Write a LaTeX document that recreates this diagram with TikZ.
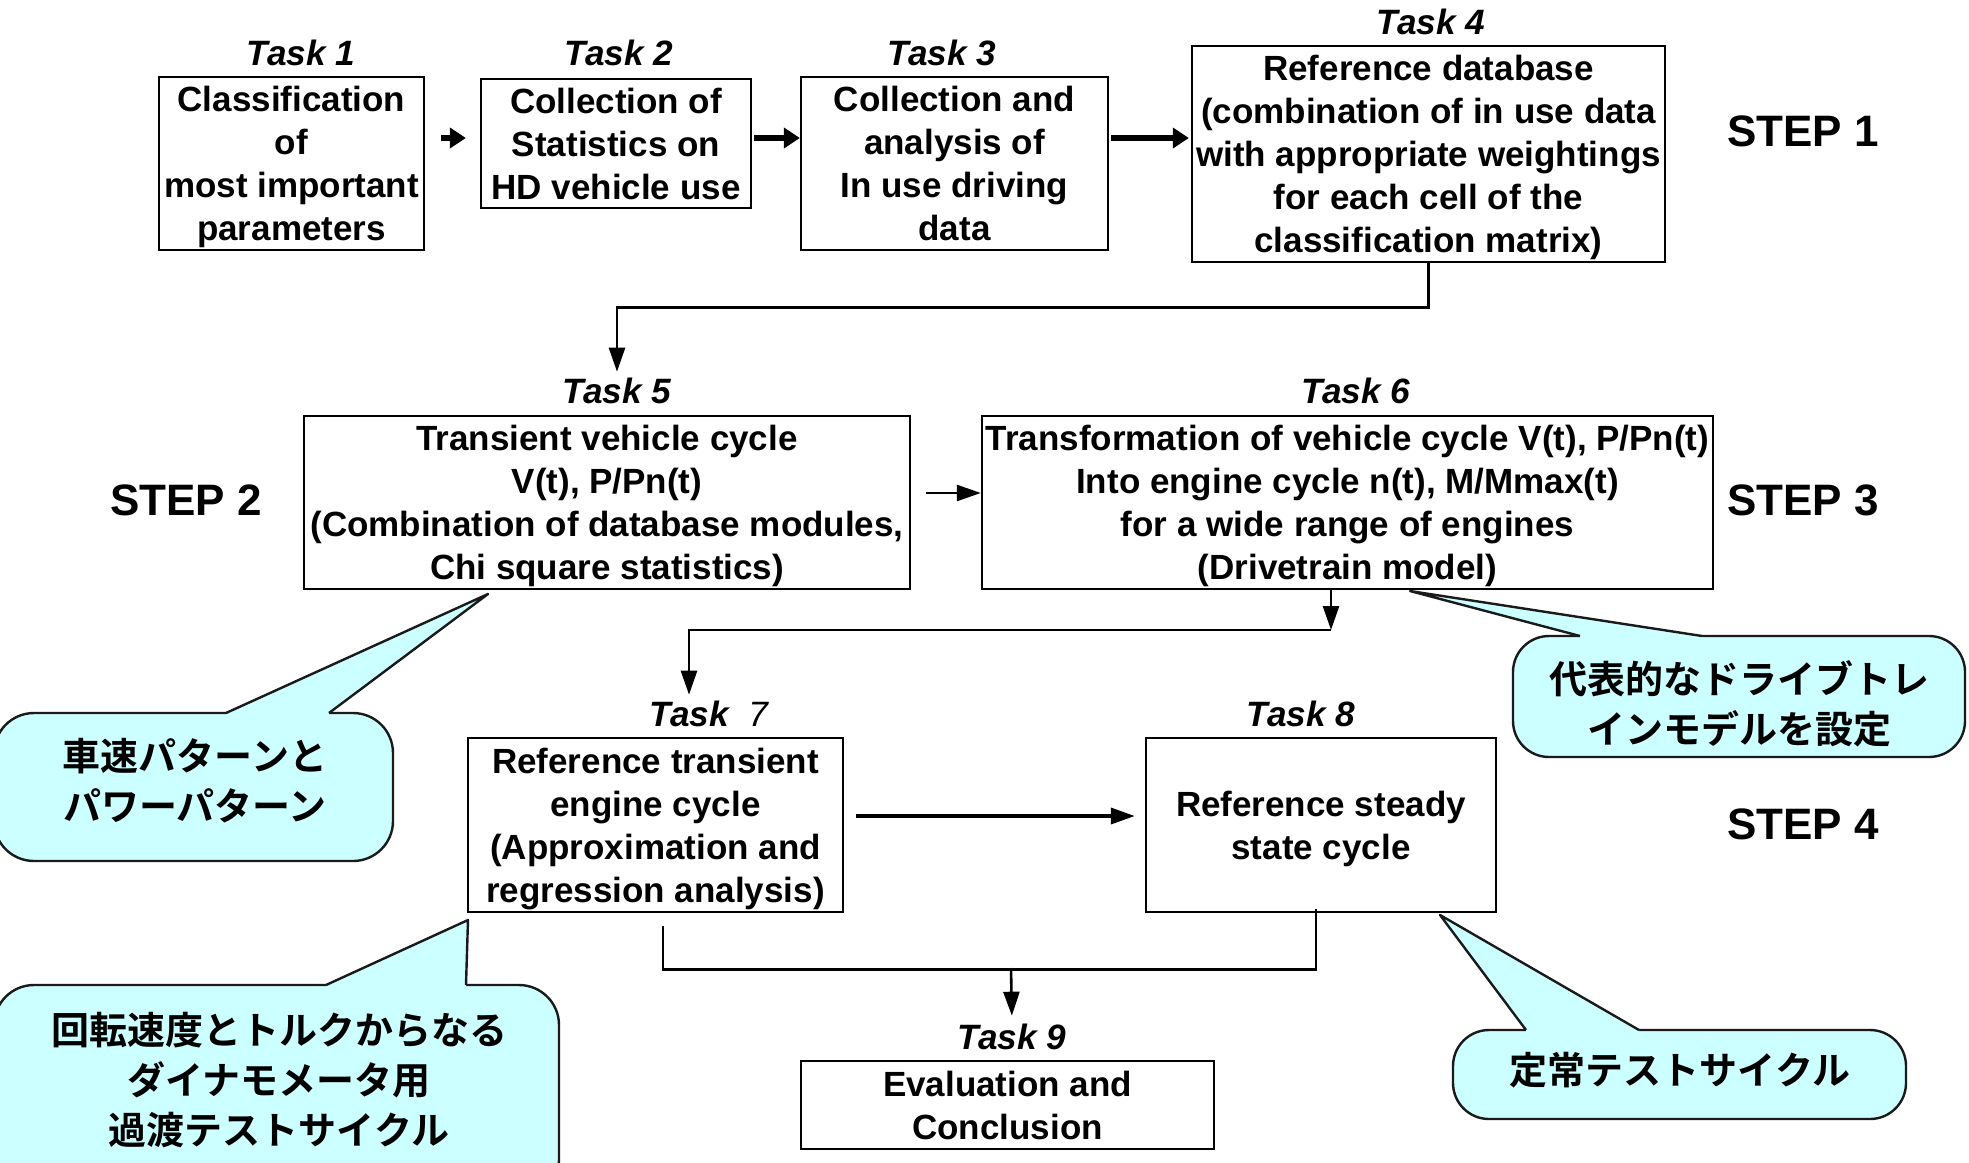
\documentclass[tikz,border=0pt]{standalone}
\usepackage{fontspec}
\setmainfont{Liberation Sans}
\newfontfamily\jpfont{Noto Sans CJK JP Bold}
\usetikzlibrary{arrows.meta,calc}
\definecolor{calloutfill}{HTML}{CCFFFF}
\definecolor{calloutedge}{HTML}{1A1A1A}
\newcommand\tsA{\rule{0pt}{16.6pt}}
\newcommand\tsB{\rule[-4pt]{0pt}{4pt}}
\begin{document}
\begin{tikzpicture}[x=0.5pt,y=-0.5pt,
  taskbox/.style={draw, line width=1.2pt, inner sep=0pt, align=center,
    font=\bfseries\fontsize{17.5}{21.5}\selectfont},
  tasklabel/.style={inner sep=0pt, font=\bfseries\itshape\fontsize{17.6}{20}\selectfont},
  steplabel/.style={inner sep=0pt, font=\bfseries\fontsize{22}{26}\selectfont},
  conn/.style={line width=1.3pt, -{Triangle[length=12pt,width=8pt]}},
  thickconn/.style={line width=2.6pt, -{Triangle[length=8pt,width=10pt]}},
  plainline/.style={line width=1.3pt},
  bubble/.style={draw=calloutedge, line width=1.2pt, fill=calloutfill},
  bubbleline/.style={draw=calloutedge, line width=1.2pt, line join=round},
  bubbletext/.style={inner sep=0pt, align=center, font=\jpfont\fontsize{19}{25}\selectfont}]
\useasboundingbox (0,0) rectangle (1969,1162);

% ---- Step 1 ----
\node[taskbox, minimum width=132.5pt, minimum height=86.5pt] (t1) at (291.5,163.5)
  {\tsA Classification\\of\\most important\\parameters\tsB};
\node[taskbox, minimum width=135pt, minimum height=64.5pt] (t2) at (616,143.5)
  {\tsA Collection of\\Statistics on\\HD vehicle use\tsB};
\node[taskbox, minimum width=153.5pt, minimum height=86.5pt] (t3) at (954.5,163.5)
  {\tsA Collection and\\analysis of\\In use driving\\data\tsB};
\node[taskbox, minimum width=236.5pt, minimum height=108pt] (t4) at (1428.5,154)
  {\tsA Reference database\\(combination of in use data\\with appropriate weightings\\for each cell of the\\classification matrix)\tsB};
\node[tasklabel] (l1) at (301,53) {Task 1};
\node[tasklabel] (l2) at (619,53) {Task 2};
\node[tasklabel] (l3) at (942,53) {Task 3};
\node[tasklabel] (l4) at (1431,22) {Task 4};
\node[steplabel] (s1) at (1803,131) {STEP 1};

% ---- Step 2/3 ----
\node[taskbox, minimum width=303pt, minimum height=86.5pt] (t5) at (607,502.5)
  {\tsA Transient vehicle cycle\\V(t), P/Pn(t)\\(Combination of database modules,\\Chi square statistics)\tsB};
\node[taskbox, minimum width=365.5pt, minimum height=86.5pt] (t6) at (1347.5,502.5)
  {\tsA Transformation of vehicle cycle V(t), P/Pn(t)\\Into engine cycle n(t), M/Mmax(t)\\for a wide range of engines\\(Drivetrain model)\tsB};
\node[tasklabel] (l5) at (617,391) {Task 5};
\node[tasklabel] (l6) at (1356,391) {Task 6};
\node[steplabel] (s2) at (186,500) {STEP 2};
\node[steplabel] (s3) at (1803,500) {STEP 3};

% ---- Step 4 ----
\node[taskbox, minimum width=187.5pt, minimum height=87pt] (t7) at (655.5,825)
  {\tsA Reference transient\\engine cycle\\(Approximation and\\regression analysis)\tsB};
\node[taskbox, minimum width=175pt, minimum height=87pt] (t8) at (1321,825)
  {\tsA Reference steady\\state cycle\tsB};
\node[taskbox, minimum width=206.5pt, minimum height=44pt] (t9) at (1007.5,1105)
  {\tsA Evaluation and\\Conclusion\tsB};
\node[tasklabel] (l7) at (709,714) {Task\ \ {\mdseries 7}};
\node[tasklabel] (l8) at (1301,714) {Task 8};
\node[tasklabel] (l9) at (1012,1037) {Task 9};
\node[steplabel] (s4) at (1803,824) {STEP 4};

% ---- connectors ----
\draw[thickconn, shorten <=8pt, shorten >=7pt] (t1.east |- 0,138) -- (t2.west |- 0,138);
\draw[thickconn, shorten <=1pt] (t2.east |- 0,138) -- (t3.west |- 0,138);
\draw[thickconn, shorten <=1pt, shorten >=1pt] (t3.east |- 0,138) -- (t4.west |- 0,138);
\draw[conn, shorten >=3pt] (t4.south) -- ++(0,44) -| (l5.north);
\draw[conn, shorten <=7.5pt] (t5.east |- 0,493) -- (t6.west |- 0,493);
\coordinate (j6) at (1331,630);
\draw[conn] (1331,0 |- t6.south) -- (j6);
\draw[conn, shorten >=3pt] (j6) -| ([xshift=-10pt]l7.north);
\draw[conn, line width=1.8pt, shorten <=6pt, shorten >=5pt] (t7.east |- 0,816) -- (t8.west |- 0,816);
\coordinate (j9) at (1011,968);
\draw[plainline] ([xshift=3.75pt,yshift=-6.5pt]t7.south) |- ([xshift=-2.5pt,yshift=-28pt]t8.south)
  -- ([xshift=-2.5pt,yshift=2pt]t8.south);
\draw[conn, shorten >=4pt] (j9) -- (l9.north);

% ---- callouts ----
% 1
\draw[bubble, rounded corners=20pt] (-6,713) rectangle (393,861);
\fill[calloutfill] (226,713) -- (488,594) -- (329,713) -- (329,718) -- (226,718) -- cycle;
\draw[bubbleline] (226,713) -- (488,594) -- (329,713);
\node[bubbletext] (c1) at (195,781) {車速パターンと\\パワーパターン};
% 2
\draw[bubble, rounded corners=18pt] (1513,636) rectangle (1965,757);
\fill[calloutfill] (1580,636) -- (1410,591) -- (1702,636) -- (1702,641) -- (1580,641) -- cycle;
\draw[bubbleline] (1580,636) -- (1410,591) -- (1702,636);
\node[bubbletext] (c2) at (1739,704) {代表的なドライブトレ\\インモデルを設定};
% 3
\draw[bubble, rounded corners=20pt] (-6,985) rectangle (559,1200);
\fill[calloutfill] (326,985) -- (468,920) -- (466,985) -- (466,990) -- (326,990) -- cycle;
\draw[bubbleline] (326,985) -- (468,920) -- (466,985);
\node[bubbletext] (c3) at (279,1080) {回転速度とトルクからなる\\ダイナモメータ用\\過渡テストサイクル};
% 4
\draw[bubble, rounded corners=18pt] (1453,1030) rectangle (1906,1119);
\fill[calloutfill] (1526,1030) -- (1440,915) -- (1639,1030) -- (1639,1035) -- (1526,1035) -- cycle;
\draw[bubbleline] (1526,1030) -- (1440,915) -- (1639,1030);
\node[bubbletext] (c4) at (1680,1070) {定常テストサイクル};
\end{tikzpicture}
\end{document}
